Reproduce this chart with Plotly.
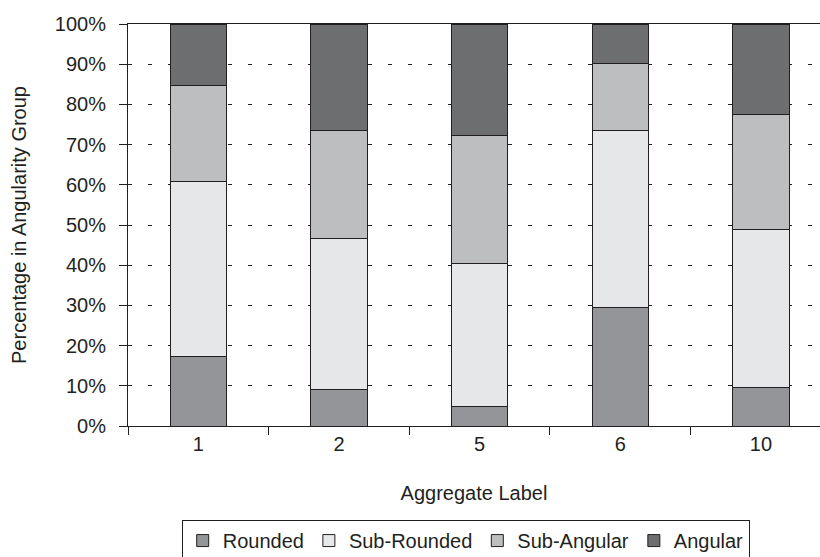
import plotly.graph_objects as go

categories = ["1", "2", "5", "6", "10"]
rounded = [17.3, 9.0, 4.8, 29.6, 9.5]
sub_rounded = [43.5, 37.6, 35.5, 43.8, 39.5]
sub_angular = [23.8, 26.9, 32.0, 16.8, 28.5]
angular = [15.4, 26.5, 27.7, 9.8, 22.5]
y_ticks = [0, 10, 20, 30, 40, 50, 60, 70, 80, 90, 100]
y_tick_labels = [f"{v}%" for v in y_ticks]

series = [
    ("Rounded", rounded, "#939598"),
    ("Sub-Rounded", sub_rounded, "#e6e7e8"),
    ("Sub-Angular", sub_angular, "#bcbec0"),
    ("Angular", angular, "#6d6e70"),
]

fig = go.Figure()
for name, vals, color in series:
    fig.add_trace(go.Bar(
        x=categories, y=vals, name=name,
        marker=dict(color=color, line=dict(color="#231f20", width=1)),
        width=0.4,
    ))

font_family = "Liberation Sans, Arial, sans-serif"
fig.update_layout(
    barmode="stack",
    width=820, height=557,
    margin=dict(l=128, r=0, t=24, b=131, autoexpand=False),
    paper_bgcolor="white", plot_bgcolor="white",
    font=dict(family=font_family, size=20, color="#231f20"),
    xaxis=dict(
        type="category",
        range=[-0.5, 4.42],
        automargin=False,
        showline=True, linecolor="#231f20", linewidth=1, mirror=True,
        ticks="outside", tickson="boundaries", ticklen=8, tickcolor="#231f20",
        showgrid=False,
        title=dict(text="Aggregate Label", standoff=31, font=dict(size=20)),
        tickfont=dict(size=20),
    ),
    yaxis=dict(
        range=[0, 100],
        automargin=False,
        tickvals=y_ticks, ticktext=y_tick_labels,
        showline=True, linecolor="#231f20", linewidth=1,
        ticks="outside", ticklen=8, tickcolor="#231f20",
        ticklabelstandoff=9,
        showgrid=True, gridcolor="#231f20", gridwidth=1, griddash="4px,16px",
        zeroline=False,
        title=dict(text="Percentage in Angularity Group", standoff=22, font=dict(size=20)),
        tickfont=dict(size=20),
    ),
    legend=dict(
        orientation="h",
        x=0.488, xanchor="center",
        y=-0.234, yanchor="top",
        bordercolor="#231f20", borderwidth=1,
        bgcolor="white",
        font=dict(size=20),
        traceorder="normal",
        itemwidth=30,
    ),
)
fig.update_yaxes(layer="below traces")

fig.write_html("out.html")
